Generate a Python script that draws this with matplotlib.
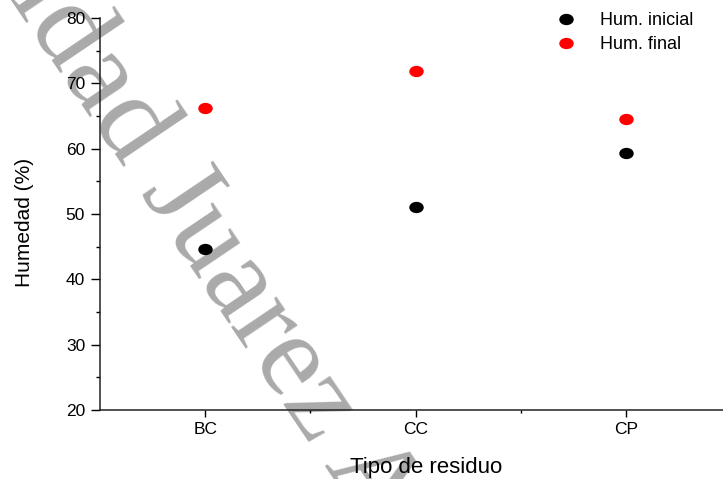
import matplotlib
matplotlib.use("Agg")
import matplotlib.pyplot as plt
from matplotlib.path import Path
from matplotlib.ticker import MultipleLocator, FixedLocator
import numpy as np

categories = ["BC", "CC", "CP"]
hum_inicial = [44.7, 51.0, 59.3]
hum_final = [66.2, 71.9, 64.6]
series_labels = ["Hum. inicial", "Hum. final"]
x_label = "Tipo de residuo"
y_label = "Humedad (%)"
watermark_a = "Universidad "
watermark_b = "Juarez Autónoma de Tabasco"

plt.rcParams['font.family'] = ['Liberation Sans', 'DejaVu Sans']

W, H = 723, 479
fig = plt.figure(figsize=(W / 100, H / 100), dpi=100)

# watermark (behind everything)
ang = -56
wm_kw = dict(fontsize=86, family=['Liberation Serif', 'DejaVu Serif'], color='#aaaaaa',
             rotation=ang, rotation_mode='anchor', va='baseline', zorder=-1)
jx, jy = 140, 192
fig.text(jx / W, 1 - jy / H, watermark_a, ha='right', **wm_kw)
fig.text(jx / W, 1 - jy / H, watermark_b, ha='left', **wm_kw)

ax = fig.add_axes([100 / W, (H - 410) / H, 631 / W, 392 / H])
ax.patch.set_alpha(0)

# elliptical marker (wider than tall)
circ = Path.unit_circle()
ell = Path(circ.vertices * np.array([1.0, 0.76]), circ.codes)

x = np.arange(1, len(categories) + 1)
ax.plot(x, hum_inicial, linestyle='none', marker=ell, markersize=9.4,
        color='black', label=series_labels[0], zorder=3)
ax.plot(x, hum_final, linestyle='none', marker=ell, markersize=9.4,
        color='#ff0000', label=series_labels[1], zorder=3)

ax.set_xlim(0.5, 3.5)
ax.set_ylim(20, 80)
ax.set_xticks(x)
ax.set_xticklabels(categories)
ax.xaxis.set_minor_locator(FixedLocator([1.5, 2.5]))
ax.yaxis.set_major_locator(MultipleLocator(10))
ax.yaxis.set_minor_locator(MultipleLocator(5))

for s in ['top', 'right']:
    ax.spines[s].set_visible(False)
for s in ['left', 'bottom']:
    ax.spines[s].set_linewidth(1.1)
    ax.spines[s].set_color('#222222')

ax.tick_params(axis='y', which='major', direction='out', length=6.7, width=1.0,
               labelsize=12.5, pad=4)
ax.tick_params(axis='y', which='minor', direction='out', length=3.2, width=1.0)
ax.tick_params(axis='x', which='major', direction='out', length=5, width=1.0,
               labelsize=12.5, pad=4)
ax.tick_params(axis='x', which='minor', direction='out', length=2.5, width=1.0)

ax.set_xlabel(x_label, fontsize=16)
ax.xaxis.set_label_coords((426 - 100) / 631, -(467 - 410) / 392)
ax.set_ylabel(y_label, fontsize=15)
ax.yaxis.set_label_coords(-(100 - 25) / 631, (410 - 222) / 392)
ax.xaxis.label.set_verticalalignment('center')
ax.yaxis.label.set_verticalalignment('center')

leg = ax.legend(loc='upper left', bbox_to_anchor=(557 / W, (H - 12) / H),
                bbox_transform=fig.transFigure, frameon=False, fontsize=13,
                handlelength=1.0, handletextpad=1.4, labelspacing=0.38,
                borderpad=0, borderaxespad=0, markerscale=1.0)

fig.savefig("out.png", dpi=100)
